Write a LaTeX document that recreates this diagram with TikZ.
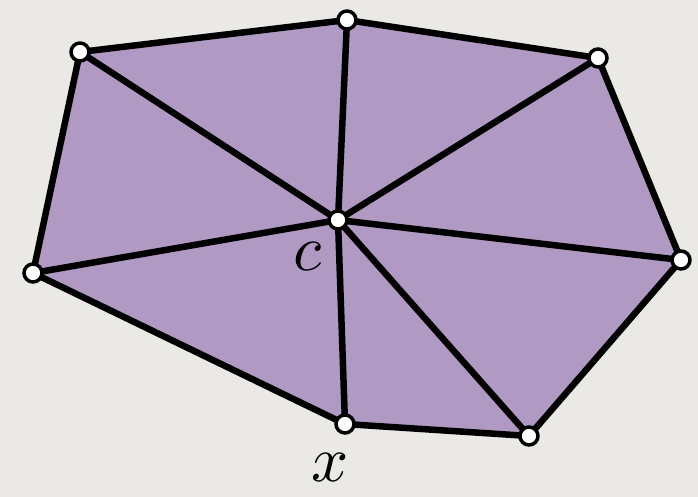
\documentclass[tikz,border=0pt]{standalone}
\begin{document}
\begin{tikzpicture}[x=1pt,y=-1pt,
  edge/.style={line width=6.5pt,line join=round,line cap=round},
  vert/.style={circle,draw=black,fill=white,line width=3.5pt,minimum size=18pt,inner sep=0pt},
  lbl/.style={scale=6.5}]
\definecolor{bg}{HTML}{EBE9E5}
\definecolor{pur}{HTML}{B09AC3}
\fill[bg] (0,0) rectangle (698,497);
\useasboundingbox (0,0) rectangle (698,497);
\coordinate (A) at (80,52);
\coordinate (B) at (347,20);
\coordinate (C) at (598,58);
\coordinate (D) at (681,260);
\coordinate (E) at (529,436);
\coordinate (F) at (345,424);
\coordinate (G) at (33,273);
\coordinate (O) at (338,220);
\fill[pur] (A)--(B)--(C)--(D)--(E)--(F)--(G)--cycle;
\draw[edge] (A)--(B)--(C)--(D)--(E)--(F)--(G)--cycle;
\foreach \p in {A,B,C,D,E,F,G} \draw[edge] (O)--(\p);
\foreach \p in {A,B,C,D,E,F,G,O} \node[vert] (v\p) at (\p) {};
\node[lbl] (lc) at (308,257) {$c$};
\node[lbl] (lx) at (330,468) {$x$};
\end{tikzpicture}
\end{document}
